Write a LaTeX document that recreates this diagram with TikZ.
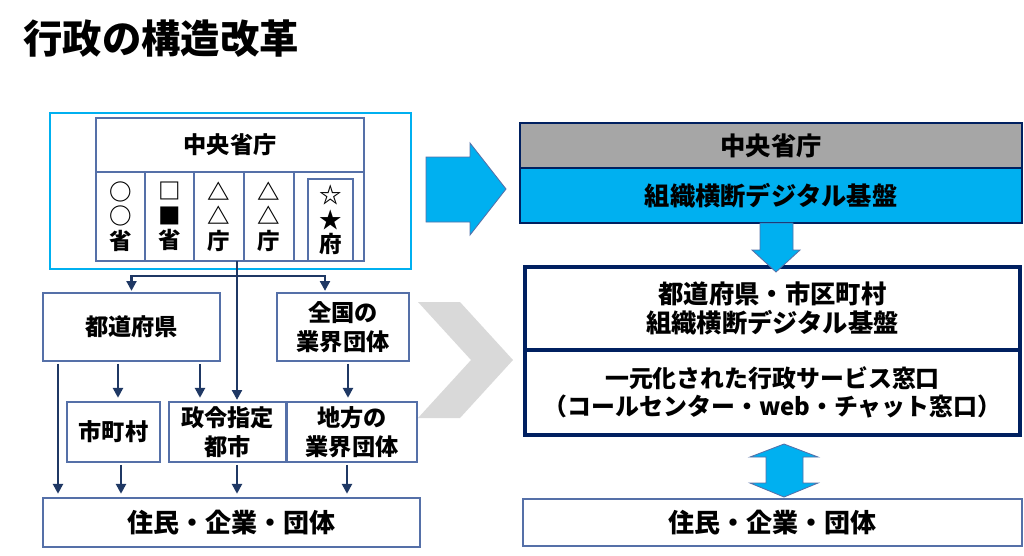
\documentclass[tikz,border=0pt]{standalone}
\usepackage{fontspec}
\setmainfont{Noto Sans CJK JP}
\usetikzlibrary{arrows.meta}
\newcommand*{\PX}{0.025cm}
\definecolor{CyanLine}{HTML}{00B0F0}
\definecolor{NavyLine}{HTML}{1F3864}
\definecolor{BoxLine}{HTML}{5570A8}
\definecolor{HeadGray}{HTML}{A6A6A6}
\definecolor{DeepNavy}{HTML}{002060}
\definecolor{ChevronGray}{HTML}{D9D9D9}
\newcommand*{\BoxFont}{\bfseries\fontsize{16.5}{20.5}\selectfont}
\newcommand*{\BigFont}{\bfseries\fontsize{18}{21}\selectfont}
\tikzset{
  plain/.style={draw=BoxLine, line width=0.8pt, inner sep=0pt, outer sep=0pt, align=center, font=\BoxFont},
  cell/.style={plain, minimum height=89*\PX, font=\bfseries\fontsize{16}{17.5}\selectfont},
  bigbox/.style={draw=DeepNavy, line width=3.5pt, inner sep=0pt, outer sep=0pt, align=center,
    minimum width=495*\PX, font=\BigFont},
  arr/.style={draw=NavyLine, line width=2pt, -{Triangle[width=7pt,length=7pt]},
    shorten >=1.5pt},
  blockarrow/.style={fill=CyanLine, draw=BoxLine, line width=0.6pt},
}

\begin{document}
\begin{tikzpicture}[x=\PX,y=-\PX]
  \useasboundingbox (0,0) rectangle (1024,555);
  % title
  \node[anchor=west, inner sep=0pt, font=\bfseries\fontsize{28}{32}\selectfont] (title) at (23,39) {行政の構造改革};

  % left: present structure
  \node[draw=CyanLine, line width=2pt, minimum width=361*\PX, minimum height=156*\PX] (outer) at (230.5,191) {};
  \node[plain, minimum width=268*\PX, minimum height=54*\PX] (hq) at (230,145) {中央省庁};
  \foreach \n/\cx/\w/\sym in {1/120.5/49/{○\\○\\省}, 2/169.5/49/{□\\■\\省},
      3/219/50/{△\\△\\庁}, 4/269/50/{△\\△\\庁}, 5/329/70/{}}
    \node[cell, minimum width=\w*\PX] (col\n) at (\cx,216.5) {\sym};
  \node[cell, minimum width=45*\PX, minimum height=82*\PX] (cabinet) at (330.5,220) {☆\\★\\府};

  \node[plain, minimum width=177*\PX, minimum height=68*\PX] (pref) at (131.5,327) {都道府県};
  \node[plain, minimum width=132*\PX, minimum height=68*\PX] (natl) at (343,327) {全国の\\業界団体};
  \node[plain, minimum width=93*\PX, minimum height=60*\PX] (muni) at (113.5,432) {市町村};
  \node[plain, minimum width=117*\PX, minimum height=60*\PX] (city) at (227.5,432) {政令指定\\都市};
  \node[plain, minimum width=130*\PX, minimum height=60*\PX] (local) at (352,432) {地方の\\業界団体};
  \node[plain, minimum width=377*\PX, minimum height=49*\PX, font=\bfseries\fontsize{18.5}{21}\selectfont] (res) at (231.5,522.5) {住民・企業・団体};

  \coordinate (hub) at (237,276);
  \draw[arr] (col3.south -| hub) -- (city.north -| hub);
  \draw[arr] (hub) -| (pref.north);
  \draw[arr] (hub) -| (natl.north -| 325,0);
  \foreach \x/\from/\to in {58/pref/res, 118/pref/muni, 200/pref/city, 348/natl/local,
      121/muni/res, 237/city/res, 347/local/res}
    \draw[arr, shorten <=2pt, shorten >=3pt] (\from.south -| \x,0) -- (\to.north -| \x,0);

  % middle arrows
  \filldraw[blockarrow] (426,157) -- (470,157) -- (470,143) -- (506,189) -- (470,235) -- (470,222) -- (426,222) -- cycle;
  \fill[ChevronGray] (418,302) -- (460,302) -- (513,360) -- (460,418) -- (418,418) -- (471,360) -- cycle;

  % right: reformed structure
  \node[draw=DeepNavy, line width=1.5pt, fill=HeadGray, minimum width=502*\PX, minimum height=45*\PX,
    inner sep=0pt, font=\BigFont] (newhq) at (771,145.5) {中央省庁};
  \node[draw=DeepNavy, line width=1.5pt, fill=CyanLine, minimum width=502*\PX, minimum height=55*\PX,
    inner sep=0pt, font=\BigFont] (hqbase) at (771,195.5) {組織横断デジタル基盤};
  \node[bigbox, minimum height=83*\PX] (lgbase) at (772.5,308.5) {都道府県・市区町村\\組織横断デジタル基盤};
  \node[bigbox, minimum height=85*\PX, font=\bfseries\fontsize{17}{20}\selectfont] (window) at (772.5,392.5)
    {一元化された行政サービス窓口\\（コールセンター・web・チャット窓口）};
  \node[plain, minimum width=499*\PX, minimum height=47*\PX, font=\bfseries\fontsize{18.5}{21}\selectfont] (resR) at (772.5,522.5) {住民・企業・団体};

  \filldraw[blockarrow] (760,223) -- (793,223) -- (793,250) -- (800,250) -- (776,272) -- (752,250) -- (760,250) -- cycle;
  \filldraw[blockarrow] (784,444) -- (818,457) -- (803,457) -- (803,483) -- (818,483) -- (784,497)
    -- (750,483) -- (766,483) -- (766,457) -- (750,457) -- cycle;
\end{tikzpicture}
\end{document}
